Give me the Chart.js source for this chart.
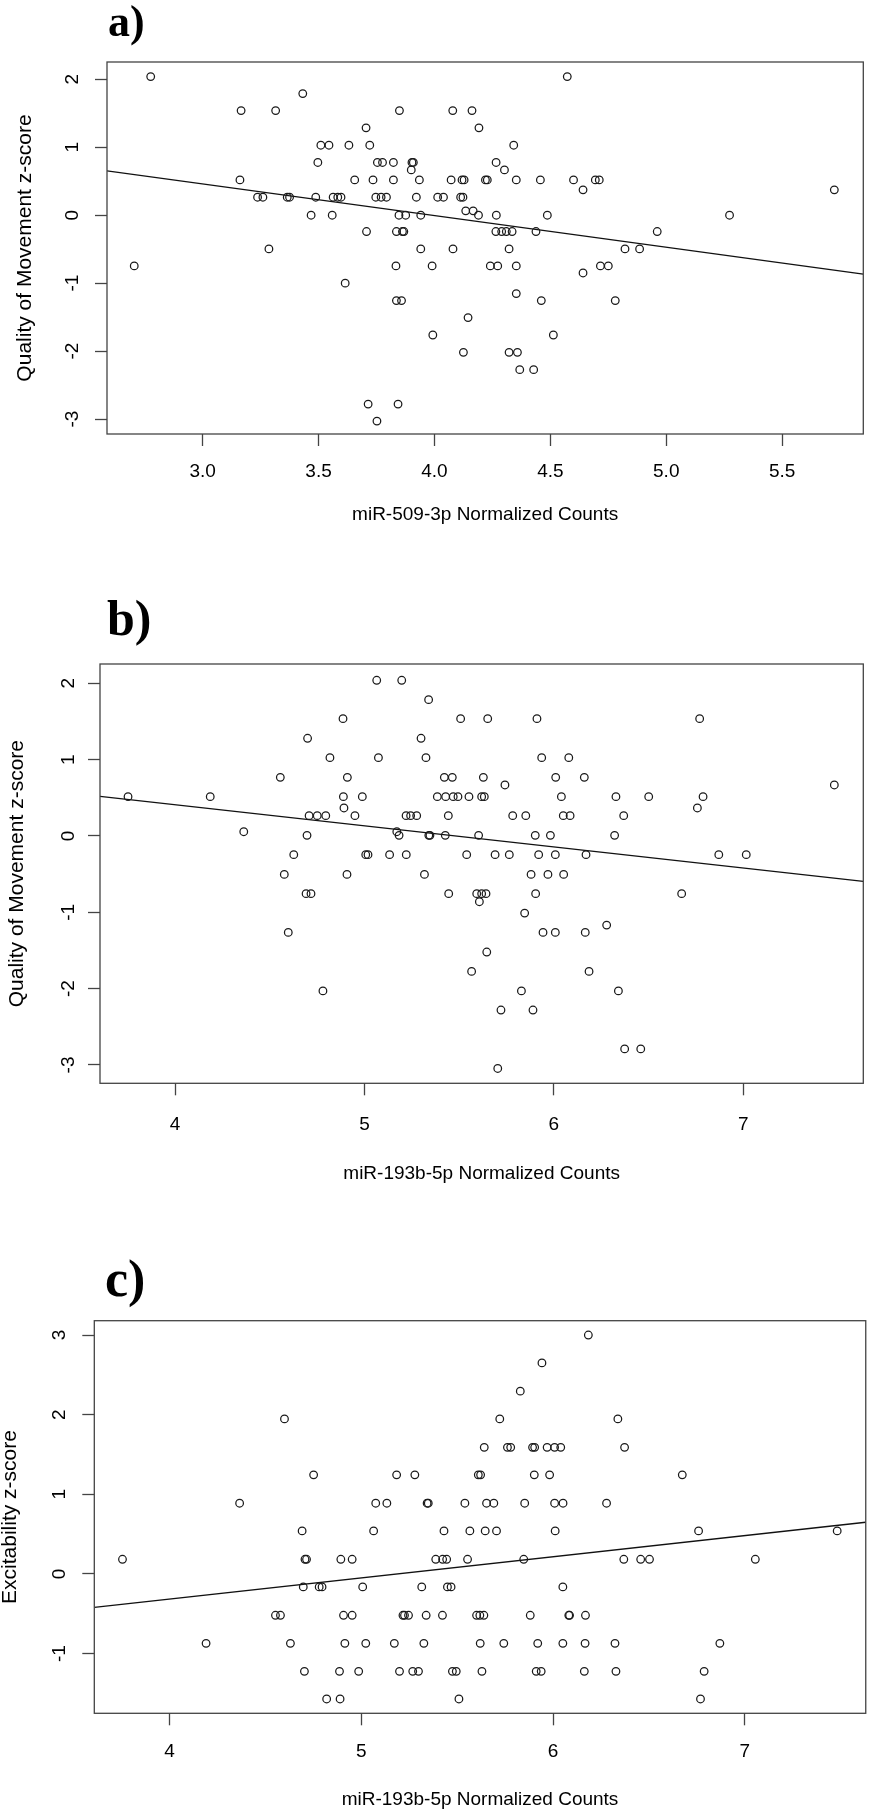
<!DOCTYPE html>
<html>
<head>
<meta charset="utf-8">
<script src="https://cdn.jsdelivr.net/npm/chart.js@4.4.1/dist/chart.umd.min.js"></script>
<style>
  body { margin: 0; background: #fff; }
  #page { position: relative; width: 871px; height: 1818px; overflow: hidden; }
  canvas { position: absolute; left: 0; }
  .tag { position: absolute; font-family: "Liberation Serif", "Times New Roman", serif; font-weight: bold; line-height: 1; color: #000; }
</style>
</head>
<body>
<div id="page">
  <canvas id="chartA" width="871" height="560" style="top:0px"></canvas>
  <canvas id="chartB" width="871" height="640" style="top:560px"></canvas>
  <canvas id="chartC" width="871" height="618" style="top:1200px"></canvas>
  <div class="tag" style="left:108px; top:0px; font-size:44px">a)</div>
  <div class="tag" style="left:107px; top:593px; font-size:50px">b)</div>
  <div class="tag" style="left:105px; top:1253px; font-size:52px">c)</div>
</div>
<script>
// panel a: miR-509-3p vs quality of movement
const xA = [2.776, 3.166, 3.315, 3.432, 3.161, 3.237, 3.26, 3.365, 3.375, 3.488,
  3.497, 3.51, 3.545, 3.631, 3.468, 3.559, 3.563, 3.583, 3.597, 3.656,
  3.705, 3.721, 3.707, 3.735, 3.747, 3.77, 3.793, 3.754, 3.776, 3.823,
  3.823, 3.849, 3.903, 3.909, 3.9, 3.935, 3.922, 3.847, 3.876, 3.941,
  3.836, 3.862, 3.868, 4.014, 4.039, 4.573, 4.079, 4.162, 4.192, 4.342,
  4.266, 4.302, 4.072, 4.119, 4.128, 4.22, 4.228, 4.353, 4.457, 4.6,
  4.694, 4.711, 4.641, 4.113, 4.123, 5.725, 4.135, 4.167, 4.19, 4.267,
  4.487, 5.273, 4.265, 4.29, 4.31, 4.335, 4.438, 4.961, 2.705, 3.286,
  3.615, 3.941, 3.834, 3.99, 3.836, 3.858, 3.993, 3.714, 3.843, 3.752,
  4.08, 4.322, 4.822, 4.885, 4.241, 4.273, 4.353, 4.641, 4.716, 4.75,
  4.353, 4.461, 4.78, 4.145, 4.513, 4.125, 4.322, 4.358, 4.368, 4.428];
const yA = [2.04, 1.54, 1.54, 1.79, 0.52, 0.265, 0.265, 0.265, 0.265, 0.265,
  0.776, 1.03, 1.03, 1.03, 0.0, 0.0, 0.265, 0.265, 0.265, 0.52,
  1.286, 1.03, -0.24, 0.52, 0.265, 0.265, 0.265, 0.776, 0.776, 0.776,
  0.52, 1.54, 0.776, 0.776, 0.667, 0.52, 0.265, 0.0, 0.0, 0.0,
  -0.24, -0.24, -0.24, 0.265, 0.265, 2.04, 1.54, 1.54, 1.286, 1.03,
  0.776, 0.667, 0.52, 0.52, 0.52, 0.52, 0.52, 0.52, 0.52, 0.52,
  0.52, 0.52, 0.373, 0.265, 0.265, 0.373, 0.064, 0.064, 0.0, 0.0,
  0.0, 0.0, -0.24, -0.24, -0.24, -0.24, -0.24, -0.24, -0.746, -0.496,
  -1.0, -0.496, -0.746, -0.746, -1.257, -1.257, -1.763, -2.78, -2.78, -3.03,
  -0.496, -0.496, -0.496, -0.496, -0.746, -0.746, -0.746, -0.85, -0.746, -0.746,
  -1.153, -1.257, -1.257, -1.507, -1.763, -2.018, -2.018, -2.018, -2.273, -2.273];
const fitA = [1.858, -0.466];           // intercept, slope
const xLimA = [2.5875, 5.85];
const yLimA = [-3.22, 2.255];
const xTicksA = [3.0, 3.5, 4.0, 4.5, 5.0, 5.5];
const yTicksA = [-3, -2, -1, 0, 1, 2];

// panel b: miR-193b-5p vs quality of movement
const xB = [3.752, 4.186, 4.363, 4.556, 4.577, 4.598, 4.627, 4.70, 4.697, 4.708,
  4.751, 4.796, 4.692, 4.718, 4.781, 4.818, 4.887, 4.91, 4.889, 4.892,
  4.908, 4.95, 4.989, 5.007, 5.019, 5.065, 5.074, 5.133, 5.171, 5.183,
  5.197, 5.22, 5.244, 5.276, 5.221, 5.299, 5.317, 5.325, 5.339, 5.34,
  5.346, 5.385, 5.508, 5.651, 5.911, 6.77, 5.936, 6.079, 5.422, 5.464,
  5.628, 6.01, 6.161, 5.742, 7.481, 5.429, 5.469, 5.494, 5.552, 5.619,
  5.633, 6.04, 6.328, 6.501, 6.788, 6.758, 5.443, 5.783, 5.852, 6.05,
  6.086, 6.369, 5.427, 5.603, 5.902, 5.982, 6.321, 5.54, 5.69, 5.765,
  5.92, 6.008, 6.17, 6.871, 7.016, 5.88, 5.969, 6.052, 5.445, 5.593,
  5.619, 5.642, 5.607, 5.904, 6.675, 5.846, 6.279, 5.943, 6.008, 6.166,
  5.646, 5.566, 6.186, 5.829, 6.341, 5.721, 5.89, 6.374, 6.459, 5.704];
const yB = [0.515, 0.515, 0.056, 0.768, -0.503, -1.263, -0.245, 1.28, 0.008, 0.266,
  0.266, 0.266, -0.756, -0.756, -2.03, 1.026, 1.537, 0.768, 0.515, 0.367,
  -0.503, 0.266, 0.515, -0.245, -0.245, 2.04, 1.026, -0.245, 0.056, 0.008,
  2.04, 0.266, 0.266, 0.266, -0.245, 1.28, -0.503, 1.026, 1.786, 0.008,
  0.008, 0.515, 1.537, 1.537, 1.537, 1.537, 1.026, 1.026, 0.768, 0.768,
  0.768, 0.768, 0.768, 0.668, 0.668, 0.515, 0.515, 0.515, 0.515, 0.515,
  0.515, 0.515, 0.515, 0.515, 0.515, 0.367, 0.266, 0.266, 0.266, 0.266,
  0.266, 0.266, 0.008, 0.008, 0.008, 0.008, 0.008, -0.245, -0.245, -0.245,
  -0.245, -0.245, -0.245, -0.245, -0.245, -0.503, -0.503, -0.503, -0.756, -0.756,
  -0.756, -0.756, -0.861, -0.756, -0.756, -1.01, -1.167, -1.263, -1.263, -1.263,
  -1.52, -1.774, -1.774, -2.03, -2.03, -2.28, -2.28, -2.79, -2.79, -3.046];
const fitB = [1.515, -0.2764];
const xLimB = [3.604, 7.634];
const yLimB = [-3.24, 2.253];
const xTicksB = [4, 5, 6, 7];
const yTicksB = [-3, -2, -1, 0, 1, 2];

// panel c: miR-193b-5p vs excitability
const xC = [3.754, 4.19, 4.365, 4.552, 4.578, 4.599, 4.63, 4.691, 4.697, 4.703,
  4.706, 4.714, 4.751, 4.78, 4.795, 4.819, 4.886, 4.889, 4.893, 4.907,
  4.914, 4.952, 4.952, 4.986, 5.007, 5.023, 5.064, 5.075, 5.133, 5.172,
  5.184, 5.199, 5.217, 5.225, 5.246, 5.268, 5.298, 5.279, 5.315, 5.326,
  5.338, 5.343, 5.349, 5.388, 6.184, 5.942, 5.829, 5.722, 6.338, 5.641,
  5.762, 5.779, 5.893, 5.904, 5.969, 6.008, 6.04, 6.373, 5.61, 5.622,
  5.902, 5.982, 6.674, 5.54, 5.653, 5.691, 5.852, 6.008, 6.052, 6.279,
  5.431, 5.566, 5.646, 5.705, 6.011, 6.759, 7.482, 5.424, 5.445, 5.554,
  5.847, 6.369, 6.457, 6.503, 7.055, 5.449, 5.468, 6.051, 5.423, 5.601,
  5.618, 5.639, 5.881, 6.082, 6.086, 6.169, 5.62, 5.743, 5.92, 6.051,
  6.167, 6.323, 6.87, 5.475, 5.495, 5.629, 5.912, 5.938, 6.163, 6.328,
  6.788, 5.509, 6.769];
const yC = [0.184, -0.871, 0.888, -0.519, -0.519, 1.947, -0.871, 0.54, -0.163, -1.223,
  0.184, 0.184, 1.244, -0.163, -0.163, -1.57, -1.223, -1.57, 0.184, -0.519,
  -0.871, 0.184, -0.519, -1.223, -0.163, -0.871, 0.54, 0.888, 0.888, -0.871,
  1.244, -1.223, -0.519, -0.519, -0.519, -1.223, -1.223, 1.244, -0.163, -0.871,
  -0.519, 0.888, 0.888, 0.184, 3.0, 2.65, 2.295, 1.947, 1.947, 1.59,
  1.59, 1.59, 1.59, 1.59, 1.59, 1.59, 1.59, 1.59, 1.244, 1.244,
  1.244, 1.244, 1.244, 0.888, 0.888, 0.888, 0.888, 0.888, 0.888, 0.888,
  0.54, 0.54, 0.54, 0.54, 0.54, 0.54, 0.54, 0.184, 0.184, 0.184,
  0.184, 0.184, 0.184, 0.184, 0.184, -0.163, -0.163, -0.163, -0.519, -0.519,
  -0.519, -0.519, -0.519, -0.519, -0.519, -0.519, -0.871, -0.871, -0.871, -0.871,
  -0.871, -0.871, -0.871, -1.223, -1.223, -1.223, -1.223, -1.223, -1.223, -1.223,
  -1.223, -1.57, -1.57];
const fitC = [-1.376, 0.2654];
const xLimC = [3.607, 7.631];
const yLimC = [-1.75, 3.18];
const xTicksC = [4, 5, 6, 7];
const yTicksC = [-1, 0, 1, 2, 3];

Chart.defaults.font.family = '"Liberation Sans", Arial, sans-serif';
Chart.defaults.color = '#000';

// R style box round the plot region
const boxPlugin = {
    id: 'box',
    afterDraw(chart) {
        const { ctx, chartArea: a } = chart;
        ctx.save();
        ctx.strokeStyle = '#444';
        ctx.lineWidth = 1.3;
        ctx.strokeRect(a.left, a.top, a.right - a.left, a.bottom - a.top);
        ctx.restore();
    }
};

function createScatter(id, xs, ys, fit, xLim, yLim, xTicks, yTicks, xTitle, yTitle, fmt, L) {
    const ctx = document.getElementById(id).getContext('2d');
    new Chart(ctx, {
        type: 'scatter',
        data: {
            datasets: [{
                data: xs.map((x, i) => ({ x: x, y: ys[i] })),
                pointRadius: 3.8,
                pointBorderWidth: 1.25,
                borderColor: '#1a1a1a',
                backgroundColor: 'rgba(0,0,0,0)'
            }, {
                type: 'line',
                data: xLim.map(x => ({ x: x, y: fit[0] + fit[1] * x })),
                borderColor: '#111',
                borderWidth: 1.3,
                pointRadius: 0,
                fill: false
            }]
        },
        options: {
            responsive: false,
            animation: false,
            events: [],
            layout: { padding: { top: L.top, right: L.right, bottom: L.bottom, left: 0 } },
            plugins: { legend: { display: false }, tooltip: { enabled: false } },
            scales: {
                x: {
                    type: 'linear',
                    min: xLim[0], max: xLim[1],
                    afterBuildTicks: s => { s.ticks = xTicks.map(v => ({ value: v })); },
                    afterFit: s => { s.height = L.xAxisH; },
                    grid: { drawOnChartArea: false, tickLength: 12, tickColor: '#444', tickWidth: 1.3 },
                    border: { display: false },
                    ticks: { font: { size: 19 }, padding: L.xTickPad, maxRotation: 0, autoSkip: false,
                             callback: v => fmt(v) },
                    title: { display: true, text: xTitle, font: { size: 19, lineHeight: 1 },
                             padding: { top: 0, bottom: L.xTitlePad } }
                },
                y: {
                    min: yLim[0], max: yLim[1],
                    afterBuildTicks: s => { s.ticks = yTicks.map(v => ({ value: v })); },
                    afterFit: s => { s.width = L.yAxisW; },
                    grid: { drawOnChartArea: false, tickLength: 12, tickColor: '#444', tickWidth: 1.3 },
                    border: { display: false },
                    ticks: { font: { size: 19 }, padding: L.yTickPad, minRotation: 90, maxRotation: 90,
                             crossAlign: 'center', autoSkip: false, callback: v => String(v) },
                    title: { display: true, text: yTitle, font: { size: 21, lineHeight: 1 },
                             padding: { top: L.yTitlePad, bottom: 0 } }
                }
            }
        },
        plugins: [boxPlugin]
    });
}

createScatter('chartA', xA, yA, fitA, xLimA, yLimA, xTicksA, yTicksA,
    'miR-509-3p Normalized Counts', 'Quality of Movement z-score', v => v.toFixed(1),
    { top: 62, right: 7.7, bottom: 26, xAxisH: 100, yAxisW: 107,
      xTickPad: 14.6, xTitlePad: 9.5, yTickPad: 13.3, yTitlePad: 14.5 });

createScatter('chartB', xB, yB, fitB, xLimB, yLimB, xTicksB, yTicksB,
    'miR-193b-5p Normalized Counts', 'Quality of Movement z-score', v => String(v),
    { top: 104, right: 7.7, bottom: 11.7, xAxisH: 105, yAxisW: 100,
      xTickPad: 18.3, xTitlePad: 5.5, yTickPad: 10.6, yTitlePad: 6.5 });

createScatter('chartC', xC, yC, fitC, xLimC, yLimC, xTicksC, yTicksC,
    'miR-193b-5p Normalized Counts', 'Excitability z-score', v => String(v),
    { top: 120.7, right: 1.7, bottom: 0, xAxisH: 104.7, yAxisW: 94.3,
      xTickPad: 15, xTitlePad: 8.5, yTickPad: 13.9, yTitlePad: 0 });
</script>
</body>
</html>
